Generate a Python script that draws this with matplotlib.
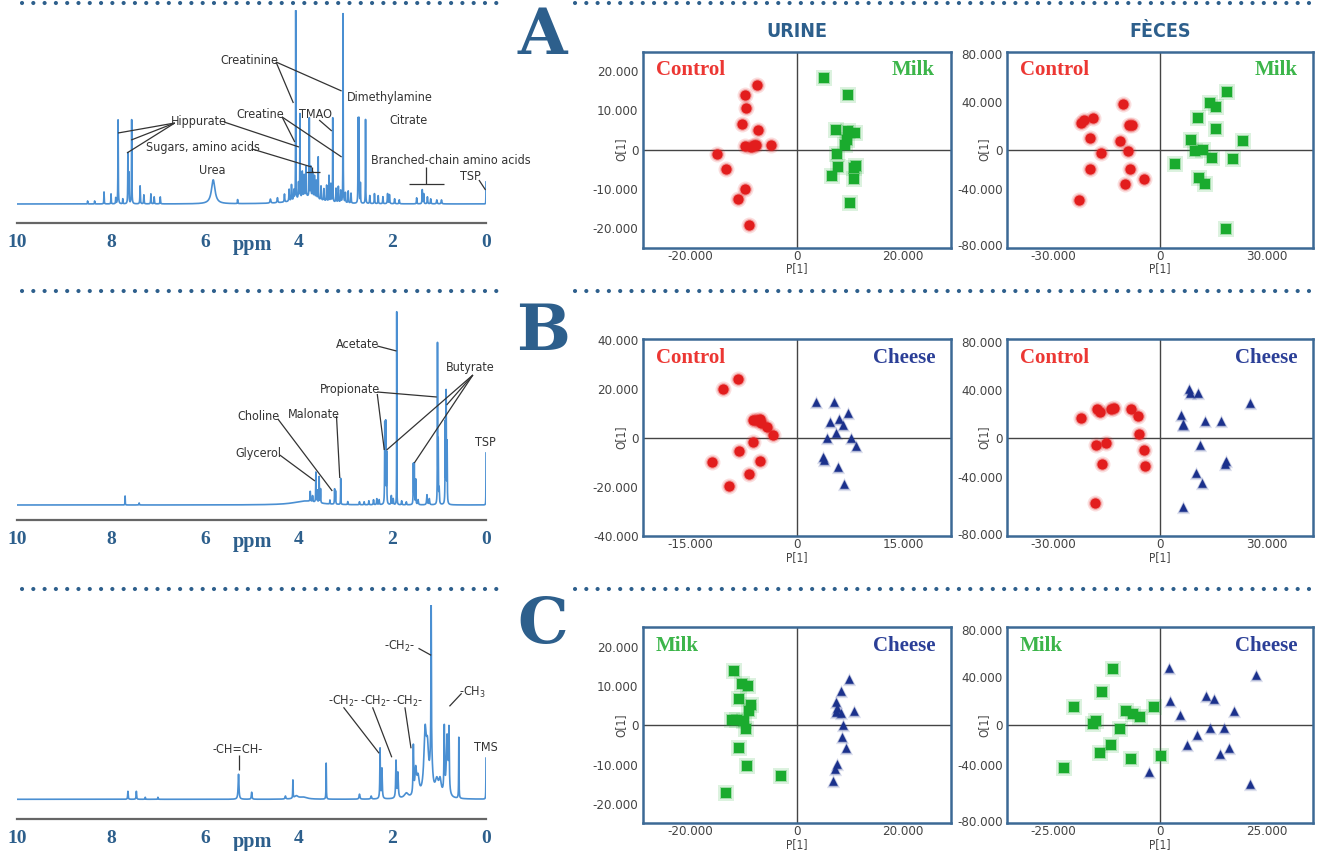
import numpy as np
import matplotlib
matplotlib.use('Agg')
import matplotlib.pyplot as plt
from matplotlib.lines import Line2D

W, H = 1319, 851
SERIF = ['Liberation Serif', 'DejaVu Serif']
plt.rcParams['font.family'] = ['DejaVu Sans']
plt.rcParams['font.stretch'] = 'condensed'
plt.rcParams['mathtext.default'] = 'regular'

LINE_BLUE = '#4a8fd2'
DARK_BLUE = '#2d5f8c'
FRAME_BLUE = '#3c6995'
RED, GREEN, NAVY = '#e21d1d', '#1aab2e', '#1b318c'
RED_TXT, GREEN_TXT, NAVY_TXT = '#ec3733', '#3cb54a', '#2b3f97'

# ---------------- NMR spectra: peak tables (ppm, height, width) ----------------
spec_a_ppm = [7.85, 7.56, 7.64, 7.62, 8.15, 8.00, 7.90, 7.75, 7.38, 7.30, 7.15, 7.08, 6.95, 8.50, 8.35,
              5.82, 5.30, 4.60, 4.45, 4.30, 4.20, 4.15, 4.06, 4.10, 4.00, 3.97, 3.92, 3.88, 3.84, 3.77,
              3.74, 3.70, 3.66, 3.62, 3.58, 3.52, 3.46, 3.40, 3.35, 3.31, 3.27, 3.20, 3.15, 3.10, 3.05,
              3.00, 2.94, 2.88, 2.73, 2.71, 2.68, 2.57, 2.48, 2.38, 2.30, 2.20, 2.10, 2.06, 1.95, 1.85,
              1.48, 1.36, 1.33, 1.25, 1.18, 1.05, 0.95, 0.00, 3.80]
spec_a_height = [84, 84, 50, 30, 12, 10, 6, 5, 18, 9, 10, 7, 7, 3, 3,
                 24, 4, 4, 5, 8, 12, 16, 189, 10, 16, 84, 26, 22, 30, 78,
                 30, 25, 22, 18, 42, 14, 12, 16, 26, 18, 84, 14, 16, 12, 189,
                 10, 12, 10, 84, 84, 20, 84, 8, 10, 8, 7, 10, 9, 5, 4,
                 6, 14, 10, 7, 5, 4, 4, 22, 7]
spec_a_width = [0.004, 0.004, 0.004, 0.004, 0.004, 0.004, 0.004, 0.004, 0.005, 0.005, 0.005, 0.005, 0.005, 0.004, 0.004,
                0.045, 0.004, 0.010, 0.008, 0.006, 0.006, 0.005, 0.003, 0.006, 0.005, 0.003, 0.005, 0.005, 0.005, 0.003,
                0.005, 0.005, 0.005, 0.005, 0.003, 0.005, 0.005, 0.005, 0.004, 0.005, 0.003, 0.005, 0.005, 0.005, 0.003,
                0.005, 0.005, 0.005, 0.003, 0.003, 0.004, 0.003, 0.005, 0.005, 0.005, 0.005, 0.006, 0.006, 0.006, 0.006,
                0.005, 0.005, 0.005, 0.006, 0.006, 0.008, 0.008, 0.002, 0.30]

spec_b_ppm = [7.70, 7.40, 3.85, 3.75, 3.70, 3.63, 3.60, 3.56, 3.53, 3.33, 3.23, 3.21, 3.10, 2.95, 2.70,
              2.60, 2.50, 2.40, 2.33, 2.28, 2.16, 2.14, 2.12, 2.02, 1.98, 1.905, 1.80, 1.70, 1.55, 1.53,
              1.50, 1.45, 1.26, 1.21, 1.035, 1.02, 1.00, 0.87, 0.85, 0.83, 0.00]
spec_b_height = [9, 2, 4, 10, 6, 30, 12, 26, 14, 4, 15, 13, 26, 3, 3,
                 3, 4, 5, 6, 5, 80, 80, 50, 9, 6, 193, 4, 3, 40, 40,
                 25, 5, 10, 6, 158, 60, 15, 80, 110, 60, 52]
spec_b_width = [0.003, 0.005, 0.30, 0.005, 0.005, 0.004, 0.004, 0.004, 0.004, 0.004, 0.004, 0.004, 0.003, 0.005, 0.005,
                0.005, 0.005, 0.006, 0.006, 0.006, 0.004, 0.004, 0.004, 0.006, 0.006, 0.002, 0.006, 0.006, 0.004, 0.004,
                0.004, 0.008, 0.008, 0.008, 0.003, 0.004, 0.006, 0.004, 0.004, 0.004, 0.002]

spec_c_ppm = [7.64, 7.46, 7.27, 7.00, 5.28, 5.00, 4.28, 4.12, 4.05, 3.90, 3.41, 2.70, 2.45, 2.26, 2.22,
              1.92, 1.88, 1.70, 1.55, 1.50, 1.45, 1.30, 1.25, 1.17, 1.17, 1.05, 0.98, 0.89, 0.83, 0.79,
              0.58, 0.00]
spec_c_height = [8, 8, 2, 2, 25, 7, 3, 18, 3, 2, 36, 5, 3, 50, 30,
                 37, 25, 5, 48, 25, 18, 60, 40, 150, 40, 15, 15, 65, 60, 60,
                 61, 41]
spec_c_width = [0.006, 0.006, 0.005, 0.005, 0.010, 0.008, 0.010, 0.004, 0.05, 0.10, 0.004, 0.010, 0.010, 0.006, 0.008,
                0.008, 0.010, 0.05, 0.008, 0.020, 0.030, 0.030, 0.030, 0.005, 0.030, 0.040, 0.030, 0.008, 0.020, 0.008,
                0.004, 0.003]

spec_ticks = [10, 8, 6, 4, 2, 0]

# annotation labels (text, ppm, height, ha) and leader lines
spec_a_labels = [("Creatinine", 5.04, 143, 'center'), ("Dimethylamine", 2.97, 107, 'left'),
                 ("Hippurate", 6.12, 83, 'center'), ("Creatine", 4.82, 89, 'center'),
                 ("TMAO", 3.63, 90, 'center'), ("Sugars, amino acids", 6.04, 57, 'center'),
                 ("Urea", 5.85, 34, 'center'), ("Citrate", 1.66, 84, 'center'),
                 ("Branched-chain amino acids", 2.45, 43, 'left'), ("TSP", 0.34, 27, 'center')]
spec_a_leaders = [((4.48, 142), (4.11, 101)), ((4.48, 142), (3.08, 113)),
                  ((6.64, 81), (7.85, 71)), ((6.64, 81), (7.57, 64)), ((6.64, 81), (7.66, 51)),
                  ((5.59, 82), (3.99, 57)),
                  ((4.35, 87), (4.08, 62)), ((4.35, 87), (3.08, 47)),
                  ((3.56, 84), (3.29, 73)),
                  ((4.99, 55), (3.72, 37)), ((3.72, 37), (3.72, 32)), ((3.84, 32), (3.54, 32)),
                  ((1.28, 37), (1.28, 20)), ((1.64, 20), (0.89, 20)),
                  ((0.15, 24), (0.01, 14))]

spec_b_labels = [("Acetate", 2.75, 161, 'center'), ("Butyrate", 0.34, 137, 'center'),
                 ("Propionate", 2.90, 115, 'center'), ("Choline", 4.86, 88, 'center'),
                 ("Malonate", 3.68, 90, 'center'), ("Glycerol", 4.85, 51, 'center'),
                 ("TSP", 0.02, 62, 'center')]
spec_b_leaders = [((2.32, 159), (1.91, 154)),
                  ((0.28, 130), (2.12, 55)), ((0.28, 130), (0.84, 100)), ((0.28, 130), (1.53, 42)),
                  ((2.32, 113), (1.05, 108)), ((2.32, 111), (2.17, 55)),
                  ((4.44, 86), (3.28, 14)),
                  ((3.19, 89), (3.12, 27)),
                  ((4.40, 50), (3.65, 24))]

spec_c_labels = [("-CH=CH-", 5.30, 50, 'center'), ("-CH$_2$-", 3.04, 98, 'center'),
                 ("-CH$_2$-", 2.35, 98, 'center'), ("-CH$_2$-", 1.68, 98, 'center'),
                 ("-CH$_2$-", 1.85, 153, 'center'), ("-CH$_3$", 0.28, 107, 'center'),
                 ("TMS", 0.01, 52, 'center')]
spec_c_leaders = [((5.28, 44), (5.28, 29)), ((3.04, 92), (2.28, 46)), ((2.42, 92), (2.01, 42)),
                  ((1.73, 92), (1.60, 51)), ((1.44, 151), (1.17, 144)), ((0.52, 106), (0.78, 93))]

# ---------------- PLS-DA score plots ----------------
ua_ctrl_x = [-7.5, -9.8, -9.6, -10.3, -7.2, -9.7, -8.7, -8.0, -7.7, -4.9, -15.0, -13.3, -9.8, -11.0, -9.0]
ua_ctrl_y = [16.4, 13.8, 10.6, 6.6, 4.9, 0.9, 0.7, 1.1, 1.1, 1.1, -1.1, -4.9, -9.9, -12.5, -19.1]
ua_milk_x = [5.1, 9.7, 7.5, 9.7, 11.1, 9.5, 9.2, 7.7, 7.9, 6.6, 10.8, 11.3, 10.9, 10.1]
ua_milk_y = [18.2, 14.0, 4.9, 4.7, 4.3, 2.4, 1.1, -1.0, -4.4, -6.6, -4.7, -4.2, -7.4, -13.6]

fa_ctrl_x = [-10.3, -22.2, -21.3, -18.9, -8.7, -7.8, -19.7, -11.3, -16.6, -9.0, -19.7, -8.4, -4.6, -9.8, -22.7]
fa_ctrl_y = [38.3, 22.4, 25.2, 26.3, 21.0, 21.0, 10.1, 7.0, -2.8, -1.1, -16.2, -16.2, -24.1, -29.1, -42.2]
fa_milk_x = [18.9, 14.1, 15.9, 10.7, 15.8, 8.6, 23.3, 10.0, 12.1, 14.7, 20.5, 4.3, 10.9, 12.6, 18.7]
fa_milk_y = [48.4, 39.2, 35.8, 26.9, 17.6, 8.4, 7.0, -1.1, 0.0, -6.7, -8.1, -12.3, -23.8, -28.5, -66.3]

ub_ctrl_x = [-8.3, -10.4, -6.1, -5.2, -5.0, -4.2, -3.3, -6.2, -8.1, -5.2, -11.9, -6.7, -9.5, -5.7]
ub_ctrl_y = [23.9, 19.9, 7.3, 7.6, 6.0, 4.4, 1.0, -1.8, -5.6, -9.5, -9.8, -14.7, -19.6, 7.3]
ub_chs_x = [2.7, 5.3, 7.2, 4.7, 6.0, 6.5, 5.6, 4.3, 7.6, 8.4, 3.7, 3.8, 5.9, 6.7]
ub_chs_y = [14.4, 14.4, 10.1, 6.4, 7.8, 5.0, 1.9, 0.0, -0.1, -3.5, -7.9, -9.3, -12.0, -19.0]

fb_ctrl_x = [-22.2, -17.8, -16.8, -13.7, -13.1, -8.1, -6.2, -5.9, -18.0, -15.3, -4.4, -16.4, -4.3, -18.3]
fb_ctrl_y = [16.4, 24.2, 21.4, 24.2, 24.7, 24.2, 17.8, 3.1, -6.4, -4.4, -10.0, -22.2, -23.3, -54.2]
fb_chs_x = [8.3, 8.4, 10.6, 25.5, 6.0, 6.4, 6.6, 12.6, 17.3, 11.2, 18.6, 18.3, 10.1, 11.7, 6.6]
fb_chs_y = [40.8, 37.5, 37.2, 28.6, 19.2, 11.7, 10.3, 13.6, 13.9, -6.1, -19.7, -22.2, -29.2, -37.8, -57.8]

uc_milk_x = [-11.8, -10.4, -9.1, -10.9, -8.6, -9.0, -12.1, -11.3, -10.0, -9.5, -10.8, -9.4, -3.0, -13.3]
uc_milk_y = [13.8, 10.5, 10.0, 6.7, 5.2, 3.7, 1.3, 1.3, 1.1, -0.9, -5.8, -10.4, -12.9, -17.1]
uc_chs_x = [9.9, 8.4, 7.5, 7.7, 10.8, 7.5, 8.4, 8.7, 8.6, 9.3, 7.6, 7.2, 6.8]
uc_chs_y = [11.7, 8.8, 5.8, 4.5, 3.7, 3.5, 3.2, 0.1, -2.9, -5.8, -9.9, -11.0, -14.1]

fc_milk_x = [-11.1, -13.6, -20.1, -15.0, -15.8, -8.1, -6.3, -4.6, -1.3, -9.5, -11.4, -14.2, -6.7, 0.2, -22.6]
fc_milk_y = [46.9, 27.5, 15.6, 3.9, 1.1, 11.9, 9.4, 6.7, 15.6, -2.8, -16.9, -22.8, -28.1, -25.3, -36.1]
fc_chs_x = [2.1, 22.6, 2.4, 10.9, 12.7, 17.3, 4.7, 11.7, 15.0, 8.6, 6.4, 16.2, 14.0, -2.5, 21.2]
fc_chs_y = [48.3, 41.7, 20.6, 24.4, 21.7, 11.9, 8.3, -2.5, -2.5, -8.3, -16.1, -18.9, -23.9, -38.9, -49.4]

# tick positions / labels (feces y labels sit unevenly in the original)
urine_yticks_20 = [20, 10, 0, -10, -20]
urine_yticks_40 = [40, 20, 0, -20, -40]
feces_yticks = [80, 40, 0, -33, -80]
feces_ylabels = ['80.000', '40.000', '0', '-40.000', '-80.000']

fig = plt.figure(figsize=(W / 100, H / 100), dpi=100)


def add_box(x0, y0, x1, y1):
    # pixel box, origin top-left
    return fig.add_axes([x0 / W, 1 - y1 / H, (x1 - x0) / W, (y1 - y0) / H])


def fmt(v):
    return '0' if v == 0 else f'{v:.3f}'


def draw_spectrum(box, ppm, height, width, ylim, labels, leaders, ppm_y):
    ax = add_box(*box)
    ax.patch.set_alpha(0)
    x = np.linspace(10, 0, 20001)
    y = np.zeros_like(x)
    for p, h, w in zip(ppm, height, width):
        y += h / (1 + ((x - p) / w) ** 2)
    ax.plot(x, y, color=LINE_BLUE, lw=1.2)
    ax.set_xlim(10, 0)
    ax.set_ylim(*ylim)
    for s in ['top', 'right', 'left']:
        ax.spines[s].set_visible(False)
    ax.spines['bottom'].set_color('#666666')
    ax.spines['bottom'].set_linewidth(1.6)
    ax.set_yticks([])
    ax.set_xticks(spec_ticks)
    ax.set_xticklabels([str(t) for t in spec_ticks], family=SERIF, stretch='normal',
                       fontweight='bold', color=DARK_BLUE, fontsize=14)
    ax.tick_params(axis='x', which='major', length=0, pad=8)
    ax.set_xticks([10, 0], minor=True)
    ax.tick_params(axis='x', which='minor', length=5, width=1.6, color='#666666')
    for (x0, y0), (x1, y1) in leaders:
        ax.plot([x0, x1], [y0, y1], color='#333333', lw=0.9, solid_capstyle='butt')
    for txt, px, py, ha in labels:
        ax.text(px, py, txt, ha=ha, va='center', fontsize=9, color='#333333')
    fig.text(252 / W, 1 - ppm_y / H, 'ppm', ha='center', va='center', family=SERIF,
             stretch='normal', fontweight='bold', fontsize=14.5, color=DARK_BLUE)
    return ax


def draw_scores(box, groups, xlim, ylim, xticks, yticks, ylabels, left_name, right_name, ylab_x):
    ax = add_box(*box)
    for gx, gy, marker, color, size in groups:
        ax.scatter(gx, gy, s=size * 2.4, marker=marker, color=color, alpha=0.15, lw=0, zorder=3)
        ax.scatter(gx, gy, s=size * 1.5, marker=marker, color=color, alpha=0.3, lw=0, zorder=3)
        ax.scatter(gx, gy, s=size, marker=marker, color=color, lw=0, zorder=4)
    ax.axhline(0, color='#444444', lw=1, zorder=2)
    ax.axvline(0, color='#444444', lw=1, zorder=2)
    ax.set_xlim(*xlim)
    ax.set_ylim(*ylim)
    ax.set_xticks(xticks)
    ax.set_xticklabels([fmt(t) for t in xticks])
    ax.set_yticks(yticks)
    ax.set_yticklabels(ylabels if ylabels else [fmt(t) for t in yticks])
    ax.tick_params(length=0, pad=3, labelsize=9.5, labelcolor='#444444')
    ax.tick_params(axis='x', pad=1.5)
    for s in ax.spines.values():
        s.set_color(FRAME_BLUE)
        s.set_linewidth(1.8)
    ax.set_xlabel('P[1]', fontsize=8.5, color='#444444')
    ax.set_ylabel('O[1]', fontsize=8.5, color='#444444')
    ax.xaxis.set_label_coords(0.5, -0.075)
    ax.yaxis.set_label_coords(ylab_x, 0.5)
    name, col = left_name
    ax.text(0.043, 0.905, name, transform=ax.transAxes, ha='left', va='center', family=SERIF,
            stretch='normal', fontweight='bold', fontsize=15, color=col)
    name, col = right_name
    ax.text(0.950, 0.905, name, transform=ax.transAxes, ha='right', va='center', family=SERIF,
            stretch='normal', fontweight='bold', fontsize=15, color=col)
    return ax


# spectra
draw_spectrum((17.3, 10, 486, 222.7), spec_a_ppm, spec_a_height, spec_a_width, (-18.7, 194),
              spec_a_labels, spec_a_leaders, 245)
draw_spectrum((17.3, 300, 486, 520), spec_b_ppm, spec_b_height, spec_b_width, (-15, 205),
              spec_b_labels, spec_b_leaders, 542)
draw_spectrum((17.3, 605, 486, 818.7), spec_c_ppm, spec_c_height, spec_c_width, (-19.4, 194.3),
              spec_c_labels, spec_c_leaders, 842)

# score plots
ctrl = ('Control', RED_TXT)
milk = ('Milk', GREEN_TXT)
chs = ('Cheese', NAVY_TXT)
draw_scores((642.7, 51.7, 950.5, 247.7),
            [(ua_ctrl_x, ua_ctrl_y, 'o', RED, 55), (ua_milk_x, ua_milk_y, 's', GREEN, 55)],
            (-29.05, 29.05), (-24.9, 24.9), [-20, 0, 20], urine_yticks_20, None, ctrl, milk, -0.05)
draw_scores((1006.7, 51.7, 1313.3, 247.7),
            [(fa_ctrl_x, fa_ctrl_y, 'o', RED, 55), (fa_milk_x, fa_milk_y, 's', GREEN, 55)],
            (-43.2, 43.2), (-82, 82), [-30, 0, 30], feces_yticks, feces_ylabels, ctrl, milk, -0.052)
draw_scores((642.7, 339.3, 950.5, 536),
            [(ub_ctrl_x, ub_ctrl_y, 'o', RED, 55), (ub_chs_x, ub_chs_y, '^', NAVY, 38)],
            (-21.7, 21.7), (-40.2, 40.2), [-15, 0, 15], urine_yticks_40, None, ctrl, chs, -0.05)
draw_scores((1006.7, 339.3, 1313.3, 536),
            [(fb_ctrl_x, fb_ctrl_y, 'o', RED, 55), (fb_chs_x, fb_chs_y, '^', NAVY, 38)],
            (-43.2, 43.2), (-82, 82), [-30, 0, 30], feces_yticks, feces_ylabels, ctrl, chs, -0.052)
draw_scores((642.7, 627.3, 950.5, 823.3),
            [(uc_milk_x, uc_milk_y, 's', GREEN, 55), (uc_chs_x, uc_chs_y, '^', NAVY, 38)],
            (-29.05, 29.05), (-24.9, 24.9), [-20, 0, 20], urine_yticks_20, None, milk, chs, -0.05)
draw_scores((1006.7, 627.3, 1313.3, 823.3),
            [(fc_milk_x, fc_milk_y, 's', GREEN, 55), (fc_chs_x, fc_chs_y, '^', NAVY, 38)],
            (-36.0, 36.0), (-82, 82), [-25, 0, 25], feces_yticks, feces_ylabels, milk, chs, -0.052)

# column titles and panel letters
fig.text(796.6 / W, 1 - 31.7 / H, 'URINE', ha='center', va='center', fontsize=14,
         fontweight='bold', color=DARK_BLUE)
fig.text(1160 / W, 1 - 31.7 / H, 'FÈCES', ha='center', va='center', fontsize=14,
         fontweight='bold', color=DARK_BLUE)
for letter, ly in zip(['A', 'B', 'C'], [37, 333, 625]):
    fig.text(542.7 / W, 1 - ly / H, letter, ha='center', va='center', family=['DejaVu Serif'],
             stretch='normal', fontweight='bold', fontsize=46, color=DARK_BLUE)

# dotted separators
for sy in [3, 291, 589]:
    for x0, x1 in [(22, 497), (575, 1315)]:
        fig.add_artist(Line2D([x0 / W, x1 / W], [1 - sy / H, 1 - sy / H], color=DARK_BLUE,
                              lw=3, linestyle=(0, (0.01, 2.7)), dash_capstyle='round'))

fig.savefig('out.png', dpi=100)
